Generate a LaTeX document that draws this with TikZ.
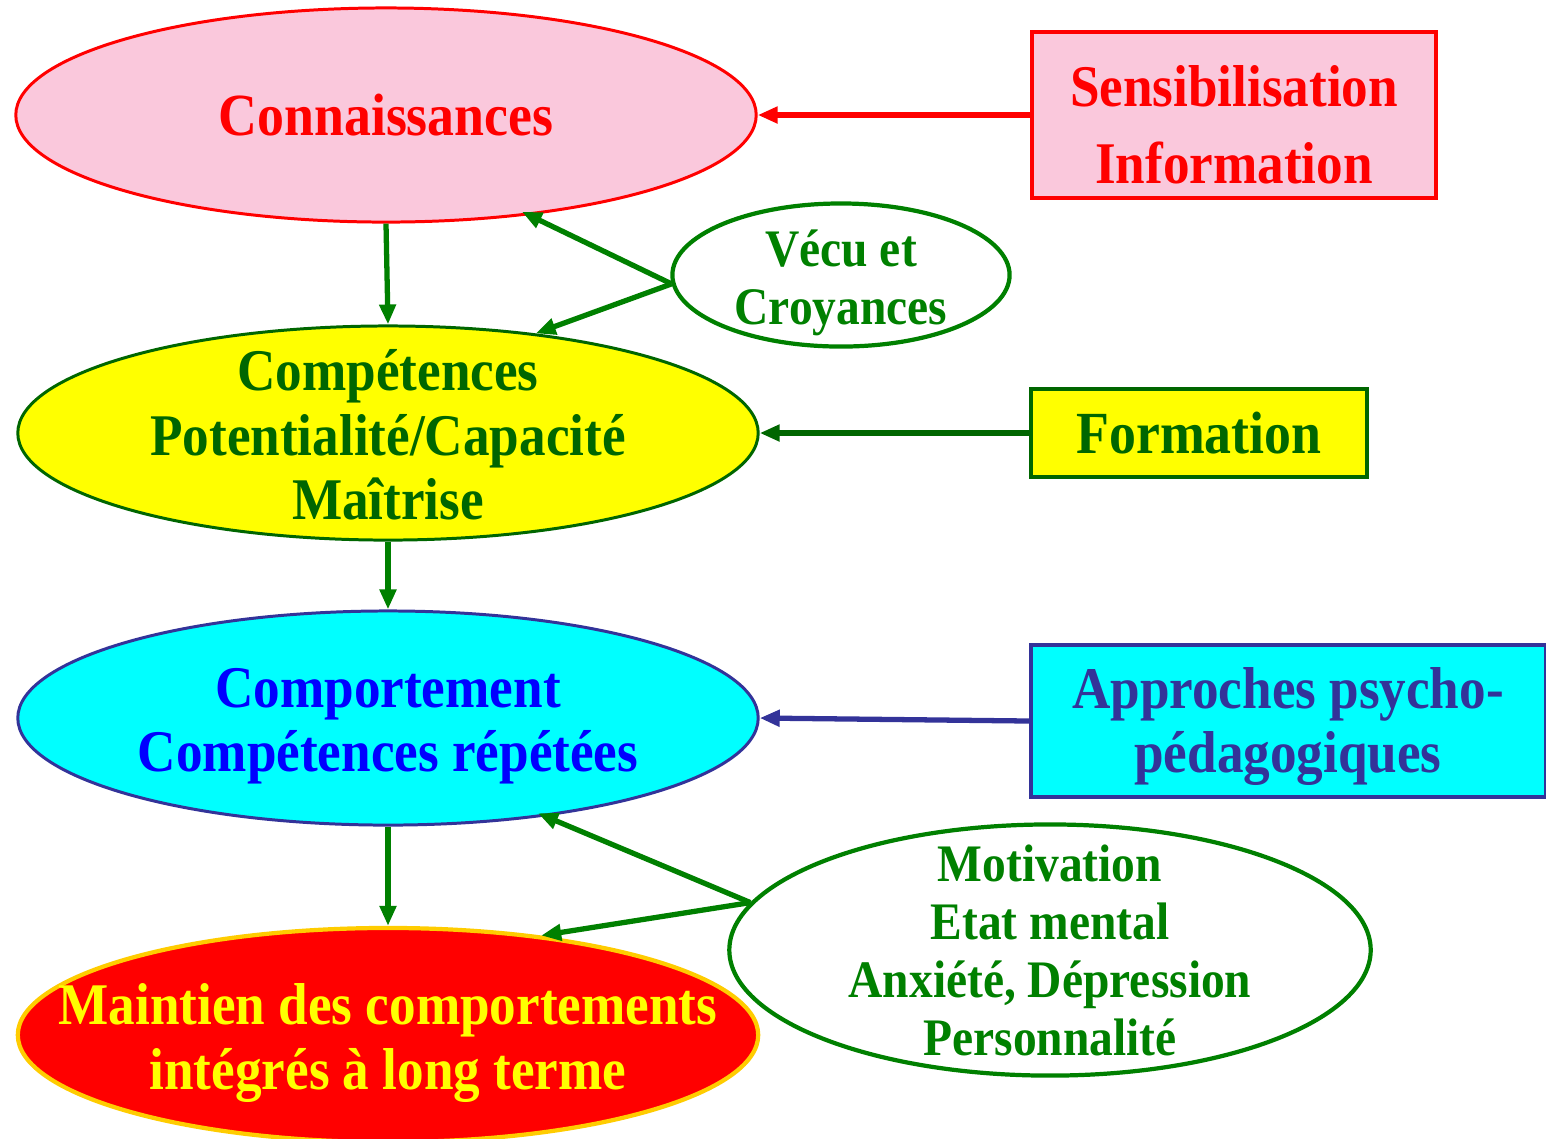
\documentclass[tikz,border=0pt]{standalone}
\usepackage{fontspec}
\setmainfont{Liberation Serif}[FakeStretch=0.9]
\usetikzlibrary{arrows.meta, positioning, shapes.geometric}

\definecolor{pinkfill}{RGB}{250,200,220}
\definecolor{redfill}{RGB}{255,0,0}
\definecolor{yellowfill}{RGB}{255,255,0}
\definecolor{cyanfill}{RGB}{0,255,255}
\definecolor{bluetext}{RGB}{0,0,255}
\definecolor{dgreen}{RGB}{0,102,0}
\definecolor{mgreen}{RGB}{0,128,0}
\definecolor{navy}{RGB}{51,51,153}
\definecolor{gold}{RGB}{255,204,0}

\begin{document}
\begin{tikzpicture}[
		x=0.01cm, y=-0.01cm,
		font=\bfseries,
		stage/.style={draw, ellipse, line width=0.85pt, minimum width=7.4cm, minimum height=2.14cm, inner sep=0pt},
		factor/.style={draw=mgreen, ellipse, line width=1.2pt, fill=white, inner sep=0pt},
		action/.style={draw, rectangle, line width=0.95pt, inner sep=0pt, align=center},
		big/.style={font=\bfseries\fontsize{16.8}{18.3}\selectfont},
		small/.style={font=\bfseries\fontsize{15}{16.5}\selectfont},
		arrow/.style={-{Triangle[length=0.2cm, width=0.16cm]}, line width=1.5pt}
		]
		\useasboundingbox (0,0) rectangle (1546,1138);

		% Stages
		\node[stage, fill=pinkfill, draw=redfill, label={[text=redfill, font=\bfseries\fontsize{17}{20}\selectfont]center:Connaissances}] (conn) at (386,115) {};
		\node[stage, fill=yellowfill, draw=dgreen, label={[align=center, text=dgreen, big, yshift=-0.02cm]center:Compétences\\Potentialité/Capacité\\Maîtrise}] (comp) at (388,433) {};
		\node[stage, fill=cyanfill, draw=navy, label={[align=center, text=bluetext, big, yshift=-0.08cm]center:Comportement\\Compétences répétées}] (behav) at (388,718) {};
		\node[stage, fill=redfill, draw=gold, line width=1.2pt, label={[align=center, text=yellowfill, big, yshift=-0.08cm]center:Maintien des comportements\\intégrés à long terme}] (maint) at (388,1035) {};

		% Actions
		\node[action, fill=pinkfill, draw=redfill, minimum width=4.04cm, minimum height=1.66cm, label={[align=center, text=redfill, font=\bfseries\fontsize{16.8}{21.8}\selectfont, yshift=-0.1cm]center:Sensibilisation\\Information}] (sens) at (1234,115) {};
		\node[action, fill=yellowfill, draw=dgreen, text=dgreen, minimum width=3.36cm, minimum height=0.88cm, font=\bfseries\fontsize{17}{20}\selectfont] (form) at (1199,433) {Formation};
		\node[action, fill=cyanfill, draw=navy, minimum width=5.14cm, minimum height=1.52cm, label={[align=center, text=navy, big, yshift=-0.055cm]center:Approches psycho-\\pédagogiques}] (appr) at (1288,721) {};

		% Factors
		\node[factor, minimum width=3.37cm, minimum height=1.43cm, label={[align=center, text=mgreen, small, yshift=-0.08cm]center:Vécu et\\Croyances}] (vecu) at (841,275) {};
		\node[factor, minimum width=6.41cm, minimum height=2.51cm, label={[align=center, text=mgreen, small]center:Motivation\\Etat mental\\Anxiété, Dépression\\Personnalité}] (motiv) at (1050,950) {};

		% Arrows
		\draw[arrow, redfill] (sens.west) -- (conn.east);
		\draw[arrow, dgreen] (form.west) -- (comp.east);
		\draw[arrow, navy] (appr.west) -- (behav.east);
		\draw[arrow, mgreen] (conn.south) -- (comp.north);
		\draw[arrow, mgreen] (comp.south) -- (behav.north);
		\draw[arrow, mgreen] (behav.south) -- (maint.north);
		\draw[arrow, mgreen, shorten >=-0.08cm] (vecu.183) -- (conn.-35);
		\draw[arrow, mgreen] (vecu.183) -- (comp.34);
		\draw[arrow, mgreen, shorten >=-0.08cm] (motiv.171) -- (behav.-32);
		\draw[arrow, mgreen] (motiv.171) -- (maint.33);

	\end{tikzpicture}
\end{document}
